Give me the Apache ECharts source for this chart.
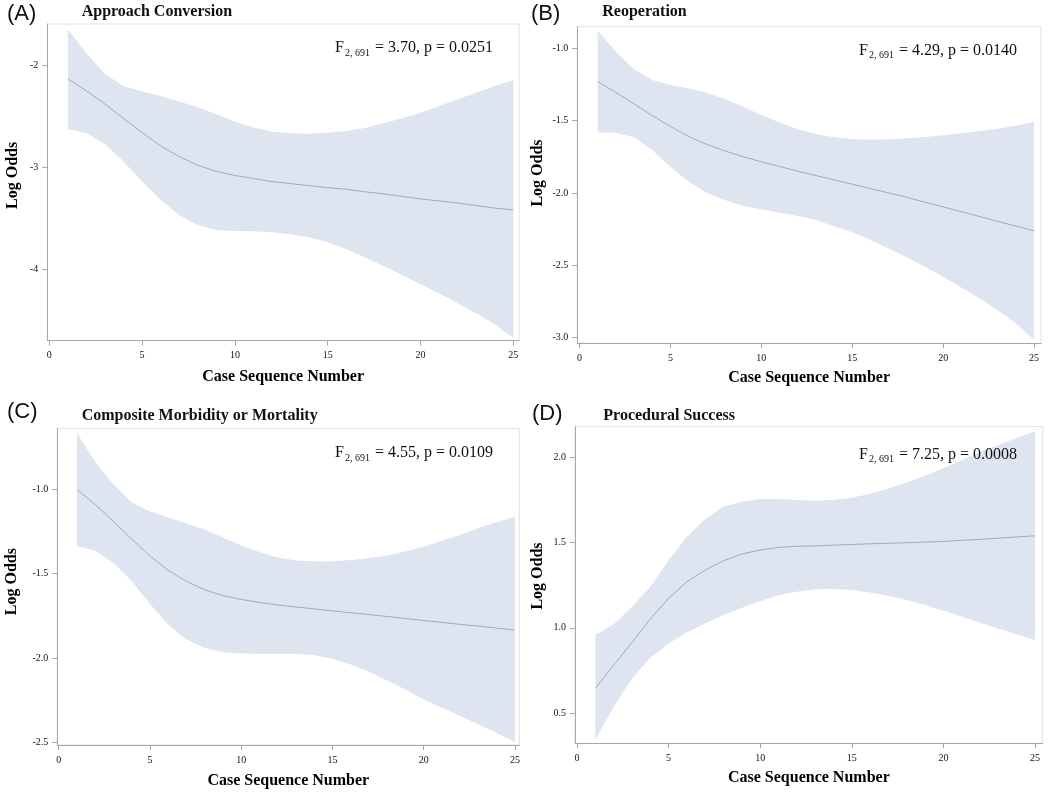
<!DOCTYPE html>
<html>
<head>
<meta charset="utf-8">
<script src="https://cdn.jsdelivr.net/npm/echarts@6/dist/echarts.min.js"></script>
<style>
  html, body { margin: 0; padding: 0; background: #ffffff; }
  #chart { width: 1050px; height: 795px; }
</style>
</head>
<body>
<div id="chart"></div>
<script>
// ---------- data ----------
const caseSeq = [1,2,3,4,5,6,7,8,9,10,11,12,13,14,15,16,17,18,19,20,21,22,23,24,25];
const xTicks = [0,5,10,15,20,25];

// (A) Approach Conversion
const convFit   = [-2.134,-2.25,-2.38,-2.52,-2.66,-2.79,-2.895,-2.98,-3.04,-3.08,-3.11,-3.14,-3.16,-3.18,-3.20,-3.215,-3.24,-3.26,-3.285,-3.31,-3.33,-3.35,-3.375,-3.40,-3.418];
const convUpper = [-1.647,-1.882,-2.085,-2.203,-2.258,-2.30,-2.356,-2.41,-2.48,-2.55,-2.61,-2.65,-2.667,-2.67,-2.66,-2.644,-2.614,-2.569,-2.52,-2.464,-2.40,-2.333,-2.268,-2.203,-2.144];
const convLower = [-2.624,-2.667,-2.771,-2.944,-3.14,-3.32,-3.467,-3.565,-3.614,-3.624,-3.627,-3.637,-3.657,-3.686,-3.735,-3.804,-3.882,-3.967,-4.056,-4.144,-4.235,-4.333,-4.43,-4.536,-4.676];
const convYTicks = [-4,-3,-2];

// (B) Reoperation
const reopFit   = [-1.231,-1.305,-1.385,-1.465,-1.54,-1.61,-1.665,-1.71,-1.75,-1.785,-1.817,-1.85,-1.88,-1.91,-1.94,-1.97,-2.0,-2.03,-2.065,-2.097,-2.13,-2.163,-2.197,-2.23,-2.262];
const reopUpper = [-0.88,-1.023,-1.145,-1.219,-1.254,-1.277,-1.307,-1.351,-1.404,-1.461,-1.514,-1.56,-1.593,-1.616,-1.627,-1.632,-1.63,-1.623,-1.614,-1.602,-1.588,-1.572,-1.556,-1.535,-1.508];
const reopLower = [-1.581,-1.584,-1.616,-1.704,-1.819,-1.923,-1.999,-2.05,-2.091,-2.114,-2.137,-2.16,-2.188,-2.23,-2.273,-2.326,-2.384,-2.446,-2.511,-2.58,-2.654,-2.73,-2.811,-2.903,-3.018];
const reopYTicks = [-3.0,-2.5,-2.0,-1.5,-1.0];

// (C) Composite Morbidity or Mortality
const compFit   = [-1.0,-1.09,-1.19,-1.295,-1.395,-1.48,-1.545,-1.595,-1.63,-1.652,-1.67,-1.685,-1.697,-1.708,-1.72,-1.731,-1.742,-1.753,-1.765,-1.777,-1.788,-1.8,-1.81,-1.822,-1.833];
const compUpper = [-0.669,-0.837,-0.970,-1.077,-1.132,-1.167,-1.201,-1.24,-1.285,-1.333,-1.372,-1.404,-1.421,-1.427,-1.427,-1.419,-1.407,-1.392,-1.368,-1.339,-1.305,-1.27,-1.23,-1.195,-1.161];
const compLower = [-1.335,-1.364,-1.437,-1.545,-1.679,-1.801,-1.89,-1.939,-1.965,-1.972,-1.974,-1.974,-1.974,-1.982,-2.004,-2.037,-2.081,-2.132,-2.185,-2.244,-2.293,-2.343,-2.392,-2.443,-2.496];
const compYTicks = [-2.5,-2.0,-1.5,-1.0];

// (D) Procedural Success
const succFit   = [0.645,0.781,0.914,1.051,1.172,1.27,1.338,1.393,1.432,1.455,1.471,1.477,1.48,1.484,1.488,1.492,1.495,1.498,1.502,1.506,1.512,1.518,1.525,1.532,1.539];
const succUpper = [0.957,1.02,1.123,1.24,1.396,1.533,1.637,1.709,1.738,1.754,1.754,1.748,1.744,1.748,1.762,1.785,1.816,1.852,1.891,1.934,1.982,2.031,2.07,2.113,2.152];
const succLower = [0.342,0.537,0.703,0.824,0.908,0.973,1.025,1.074,1.117,1.156,1.191,1.211,1.225,1.227,1.221,1.207,1.188,1.162,1.133,1.1,1.064,1.029,0.996,0.961,0.928];
const succYTicks = [0.5,1.0,1.5,2.0];

const panelLabels = ['(A)','(B)','(C)','(D)'];
const panelTitles = ['Approach Conversion','Reoperation','Composite Morbidity or Mortality','Procedural Success'];
const fStats = ['3.70','4.29','4.55','7.25'];
const pValues = ['0.0251','0.0140','0.0109','0.0008'];
const xTitle = 'Case Sequence Number';
const yTitle = 'Log Odds';

// ---------- layout / style ----------
const SERIF = '"Liberation Serif", "Times New Roman", serif';
const SANS = '"Liberation Sans", Arial, sans-serif';
const BAND = '#dee5f0';
const LINE = '#a2aabb';
const AXIS = '#a8a8a8';
const FRAME = '#e2e2e2';

const panels = [
  { fit: convFit, up: convUpper, lo: convLower, yTicks: convYTicks, dec: 0,
    grid: {left: 47.3, top: 24, width: 471.7, height: 316.7}, xr: [-0.108, 25.307], yr: [-4.70, -1.595],
    label: [7, 14], title: [81.7, 12], stat: [493, 48], yGap: 26, yPad: 14, xGap: 28 },
  { fit: reopFit, up: reopUpper, lo: reopLower, yTicks: reopYTicks, dec: 1,
    grid: {left: 577.3, top: 26.7, width: 463.7, height: 316.6}, xr: [-0.12, 25.38], yr: [-3.04, -0.851],
    label: [531, 14], title: [602.3, 12], stat: [1017, 50.5], yGap: 31, yPad: 24, xGap: 26.5 },
  { fit: compFit, up: compUpper, lo: compLower, yTicks: compYTicks, dec: 1,
    grid: {left: 57.3, top: 428.3, width: 462, height: 316.7}, xr: [-0.077, 25.24], yr: [-2.514, -0.639],
    label: [7, 412], title: [81.7, 415.5], stat: [493, 453], yGap: 37, yPad: 10, xGap: 28 },
  { fit: succFit, up: succUpper, lo: succLower, yTicks: succYTicks, dec: 1,
    grid: {left: 575, top: 426.7, width: 467.7, height: 316.6}, xr: [-0.11, 25.42], yr: [0.323, 2.178],
    label: [532, 414], title: [603.3, 415.5], stat: [1017, 454.5], yGap: 29, yPad: 18, xGap: 27 }
];

const grids = [], xAxes = [], yAxes = [], series = [], graphics = [];

panels.forEach((p, i) => {
  grids.push(Object.assign({ show: true, borderColor: FRAME, borderWidth: 1, backgroundColor: 'transparent' }, p.grid));
  xAxes.push({
    type: 'value', gridIndex: i, min: p.xr[0], max: p.xr[1],
    name: xTitle, nameLocation: 'middle', nameGap: p.xGap,
    nameTextStyle: { fontFamily: SERIF, fontWeight: 'bold', fontSize: 16, color: '#000' },
    axisLine: { show: true, onZero: false, lineStyle: { color: AXIS, width: 1 } },
    axisTick: { show: true, length: 5, lineStyle: { color: AXIS }, customValues: xTicks },
    axisLabel: { customValues: xTicks, fontFamily: SERIF, fontSize: 10, color: '#111', margin: 10,
                 formatter: v => String(Math.round(v)) },
    splitLine: { show: false }
  });
  yAxes.push({
    type: 'value', gridIndex: i, min: p.yr[0], max: p.yr[1],
    name: yTitle, nameLocation: 'middle', nameGap: p.yGap,
    nameTextStyle: { fontFamily: SERIF, fontWeight: 'bold', fontSize: 16, color: '#000', padding: [0, 0, 0, p.yPad] },
    axisLine: { show: true, onZero: false, lineStyle: { color: AXIS, width: 1 } },
    axisTick: { show: true, length: 5, lineStyle: { color: AXIS }, customValues: p.yTicks },
    axisLabel: { customValues: p.yTicks, fontFamily: SERIF, fontSize: 10, color: '#111', margin: 9,
                 formatter: v => v.toFixed(p.dec) },
    splitLine: { show: false }
  });
  const up = p.up, lo = p.lo;
  series.push({
    type: 'custom', xAxisIndex: i, yAxisIndex: i, silent: true, z: 1, clip: true,
    data: caseSeq.map((x, k) => [x, lo[k], up[k]]),
    encode: { x: 0, y: [1, 2] },
    renderItem: function (params, api) {
      if (params.dataIndex !== 0) return null;
      const pts = [];
      for (let k = 0; k < caseSeq.length; k++) pts.push(api.coord([caseSeq[k], up[k]]));
      for (let k = caseSeq.length - 1; k >= 0; k--) pts.push(api.coord([caseSeq[k], lo[k]]));
      return { type: 'polygon', shape: { points: pts }, style: { fill: BAND } };
    }
  });
  series.push({
    type: 'line', xAxisIndex: i, yAxisIndex: i, z: 2, silent: true,
    data: caseSeq.map((x, k) => [x, p.fit[k]]),
    showSymbol: false, symbol: 'none', smooth: false,
    lineStyle: { color: LINE, width: 1 }
  });

  graphics.push({
    type: 'text', x: p.label[0], y: p.label[1], silent: true,
    style: { text: panelLabels[i], fontFamily: SANS, fontSize: 22, fill: '#111',
             textAlign: 'left', textVerticalAlign: 'middle' }
  });
  graphics.push({
    type: 'text', x: p.title[0], y: p.title[1], silent: true,
    style: { text: panelTitles[i], fontFamily: SERIF, fontSize: 16, fontWeight: 'bold', fill: '#111',
             textAlign: 'left', textVerticalAlign: 'middle' }
  });
  graphics.push({
    type: 'text', x: p.stat[0], y: p.stat[1], silent: true, z: 10,
    style: {
      text: '{m|F}{s|2, 691}{m| = ' + fStats[i] + ', p = ' + pValues[i] + '}',
      textAlign: 'right', textVerticalAlign: 'middle',
      rich: {
        m: { fontFamily: SERIF, fontSize: 16, fill: '#111', color: '#111', lineHeight: 20, verticalAlign: 'middle' },
        s: { fontFamily: SERIF, fontSize: 10, fill: '#111', color: '#111', lineHeight: 10, verticalAlign: 'bottom', padding: [0, 1, 0, 1] }
      }
    }
  });
});

const chart = echarts.init(document.getElementById('chart'), null, { renderer: 'canvas' });
chart.setOption({
  animation: false,
  backgroundColor: '#ffffff',
  grid: grids,
  xAxis: xAxes,
  yAxis: yAxes,
  series: series,
  graphic: graphics
});
</script>
</body>
</html>
